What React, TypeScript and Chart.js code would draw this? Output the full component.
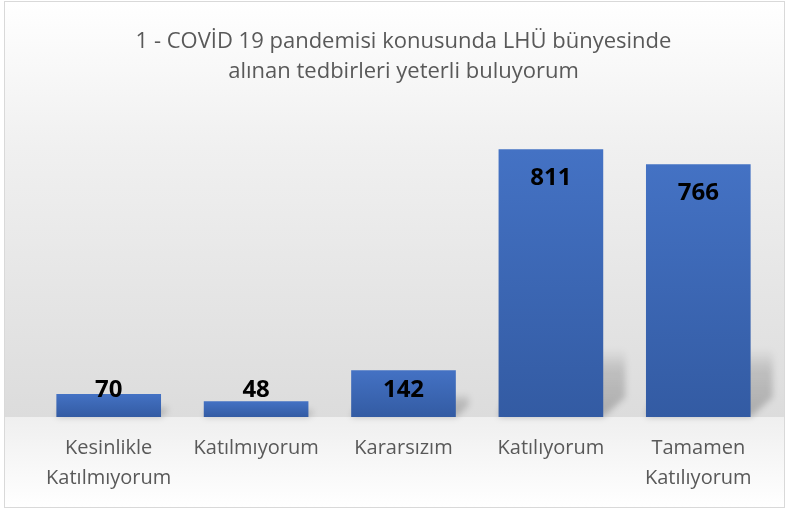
import React, { useEffect, useRef } from "react";
import { Chart, registerables } from "chart.js";

Chart.register(...registerables);

const titleLines = ["1 - COVİD 19 pandemisi konusunda LHÜ bünyesinde", "alınan tedbirleri yeterli buluyorum"];
const categories: string[][] = [
  ["Kesinlikle", "Katılmıyorum"],
  ["Katılmıyorum"],
  ["Kararsızım"],
  ["Katılıyorum"],
  ["Tamamen", "Katılıyorum"],
];
const values = [70, 48, 142, 811, 766];
const yMax = 900;

const FONT = "'Open Sans', 'Noto Sans', sans-serif";

const bgPlugin = {
  id: "bgPlugin",
  beforeDraw(chart: any) {
    const { ctx, width, height, chartArea } = chart;
    ctx.save();
    const floorY = chartArea.bottom;
    const g = ctx.createLinearGradient(0, 2, 0, floorY);
    g.addColorStop(0, "#ffffff");
    g.addColorStop(0.35, "#f0f0f0");
    g.addColorStop(1, "#dcdcdc");
    ctx.fillStyle = g;
    ctx.fillRect(5, 2, width - 10, floorY - 2);
    const g2 = ctx.createLinearGradient(0, floorY, 0, height - 4);
    g2.addColorStop(0, "#efefef");
    g2.addColorStop(1, "#ffffff");
    ctx.fillStyle = g2;
    ctx.fillRect(5, floorY, width - 10, height - 4 - floorY);
    ctx.strokeStyle = "#d9d9d9";
    ctx.lineWidth = 1;
    ctx.strokeRect(4.5, 1.5, width - 9, height - 5);
    ctx.restore();
  },
};

const shadowPlugin = {
  id: "shadowPlugin",
  beforeDatasetsDraw(chart: any) {
    const { ctx } = chart;
    const meta = chart.getDatasetMeta(0);
    ctx.save();
    ctx.filter = "blur(3px)";
    meta.data.forEach((bar: any) => {
      const left = bar.x - bar.width / 2;
      const right = bar.x + bar.width / 2;
      const bottom = bar.base;
      const bh = bottom - bar.y;
      const h = Math.min(bh * 0.5, 68);
      const dx = Math.min(h * 0.55, 22);
      const g = ctx.createLinearGradient(0, bottom, 0, bottom - h);
      g.addColorStop(0, "rgba(0,0,0,0.22)");
      g.addColorStop(0.7, "rgba(0,0,0,0.14)");
      g.addColorStop(1, "rgba(0,0,0,0)");
      ctx.fillStyle = g;
      ctx.beginPath();
      ctx.moveTo(left, bottom);
      ctx.lineTo(right, bottom);
      ctx.lineTo(right + dx, bottom - dx * 0.9);
      ctx.lineTo(right + dx, bottom - h);
      ctx.lineTo(left + dx, bottom - h);
      ctx.closePath();
      ctx.fill();
    });
    ctx.restore();
  },
};

const labelPlugin = {
  id: "labelPlugin",
  afterDatasetsDraw(chart: any) {
    const { ctx } = chart;
    const meta = chart.getDatasetMeta(0);
    ctx.save();
    ctx.font = `bold 24px ${FONT}`;
    ctx.fillStyle = "#000000";
    ctx.textAlign = "center";
    ctx.textBaseline = "middle";
    meta.data.forEach((bar: any, i: number) => {
      const y = Math.min(bar.y + 29, bar.base - 27);
      ctx.fillText(String(values[i]), bar.x, y);
    });
    ctx.restore();
  },
};

export default function App() {
  const ref = useRef<HTMLCanvasElement | null>(null);
  useEffect(() => {
    if (!ref.current) return;
    const chart = new Chart(ref.current, {
      type: "bar",
      data: {
        labels: categories,
        datasets: [
          {
            data: values,
            backgroundColor: (c: any) => {
              const ch = c.chart;
              const yScale = ch.scales?.y;
              if (!ch.chartArea || !yScale || c.raw == null) return "#4472c4";
              const top = yScale.getPixelForValue(c.raw);
              const bottom = yScale.getPixelForValue(0);
              const g = ch.ctx.createLinearGradient(0, top, 0, bottom);
              g.addColorStop(0, "#4472c4");
              g.addColorStop(1, "#335ba3");
              return g;
            },
            borderWidth: 0,
            barPercentage: 0.71,
            categoryPercentage: 1,
          },
        ],
      },
      options: {
        responsive: false,
        animation: false,
        layout: { padding: { left: 35, right: 17, top: 0, bottom: 2 } },
        plugins: {
          legend: { display: false },
          tooltip: { enabled: false },
          title: {
            display: true,
            text: titleLines,
            color: "#595959",
            font: { family: FONT, size: 22, weight: "normal", lineHeight: 30 / 22 },
            padding: { top: 27, bottom: 33 },
          },
        },
        scales: {
          x: {
            grid: { display: false, drawTicks: false },
            border: { display: false },
            ticks: {
              color: "#595959",
              font: { family: FONT, size: 20, lineHeight: 30 / 20 },
              padding: 16,
              maxRotation: 0,
              autoSkip: false,
            },
          },
          y: {
            display: false,
            min: 0,
            max: yMax,
          },
        },
      },
      plugins: [bgPlugin, shadowPlugin, labelPlugin],
    });
    return () => chart.destroy();
  }, []);
  return (
    <div style={{ position: "fixed", left: 0, top: 0, width: 789, height: 511 }}>
      <canvas ref={ref} width={789} height={511} style={{ display: "block" }} />
    </div>
  );
}
